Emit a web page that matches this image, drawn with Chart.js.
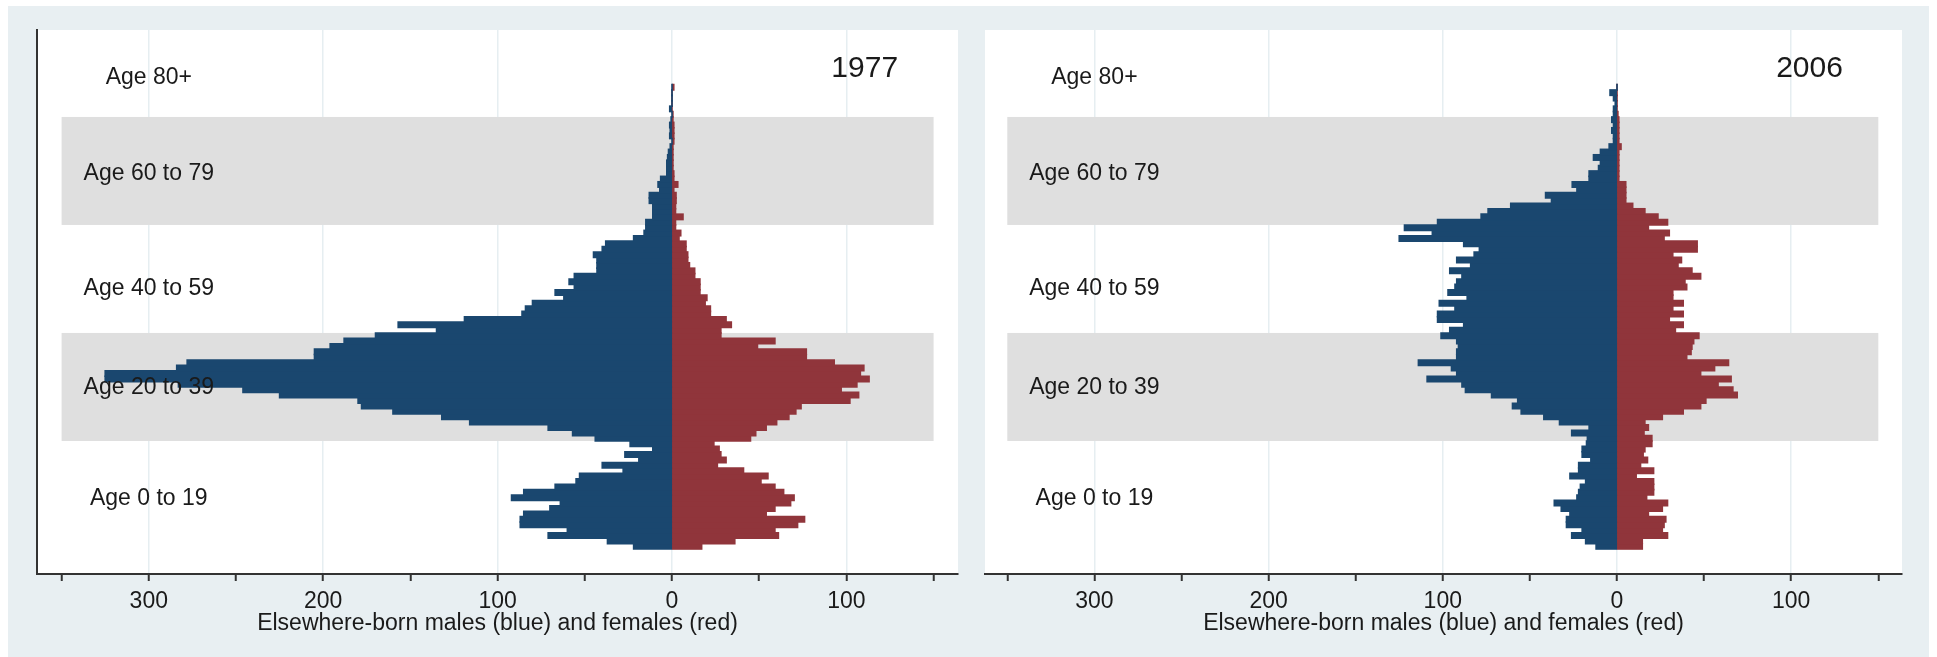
<!DOCTYPE html>
<html><head><meta charset="utf-8">
<script src="https://cdn.jsdelivr.net/npm/chart.js@4.4.1/dist/chart.umd.min.js"></script>
<style>
html,body{margin:0;padding:0;background:#fff;width:1937px;height:657px;overflow:hidden;}
#bg{position:absolute;left:8px;top:6px;width:1921px;height:651px;background:#e8eff2;}
.wrap{position:absolute;top:0;height:657px;}
canvas{display:block;}
</style></head><body>
<div id="bg"></div>
<div class="wrap" style="left:0;width:968px"><canvas id="c1" width="968" height="657"></canvas></div>
<div class="wrap" style="left:968px;width:969px"><canvas id="c2" width="969" height="657"></canvas></div>
<script>
const ages = [0,1,2,3,4,5,6,7,8,9,10,11,12,13,14,15,16,17,18,19,20,21,22,23,24,25,26,27,28,29,30,31,32,33,34,35,36,37,38,39,40,41,42,43,44,45,46,47,48,49,50,51,52,53,54,55,56,57,58,59,60,61,62,63,64,65,66,67,68,69,70,71,72,73,74,75,76,77,78,79,80,81,82,83,84,85];

const males1977 = [-22,-37,-71,-60,-87,-87,-85,-70,-64,-92,
  -85,-67,-55,-53,-28,-40,-19,-27,-11,-24,
  -44,-57,-71,-116,-132,-160,-178,-180,-225,-246,
  -283,-325,-325,-284,-278,-205,-205,-196,-188,-170,
  -135,-157,-119,-86,-84,-80,-62,-67,-56,-59,
  -56,-43,-43,-43,-45,-40,-38,-22,-16,-15,
  -15,-11,-11,-11,-13,-13,-7,-8,-6.5,-3,
  -3,-3,-2.5,-2,-1,0,-1.3,-1,-1.3,-0.5,
  0,-1.3,0,0,0,0];
const females1977 = [17,36,61,59,72,76,54,59,68,70,
  64,59,51,55,41,26,31,28,27,24,
  45,48,54,60,67,71,74,102,107,97,
  106,113,108,110,93,77,77,49,59,28,
  28,34,31,22,22,19,20,16,16,16,
  13,13,10,9,9,8,8,4,5,2,
  2,6.3,2,2,2.3,2.3,1,3.3,1,1,
  0.5,0.5,0.5,0.5,0.5,1,1,1,1,0.5,
  0.5,0,0,0,0,1];
const males2006 = [-12,-18,-26,-20,-29,-29,-27,-32,-36,-23,
  -22,-21,-18,-27,-22,-22,-15,-20,-20,-17.5,
  -17,-26,-16,-33,-42,-55,-60,-57,-72,-87,
  -89,-109,-92,-95,-114,-92,-92,-91,-92,-101,
  -96,-88,-103,-103,-93,-102,-86,-97,-93,-92,
  -89,-96,-84,-92,-82,-79,-88,-125,-106,-122,
  -103,-78,-74,-61,-37.6,-41,-23,-25.7,-16,-16,
  -10.6,-9.5,-13.5,-9.5,-4.5,-2,-2,-3,-2,-3,
  -2,-2,-1,-2,-4,0];
const females2006 = [14.5,14.5,29,26,27,28,18,26,29,17,
  21,21,21,11,21,13.5,17.5,15,16,20,
  20,15.5,18,16,26,38,48,51,69,66.5,
  58,65.5,48,56,64,40,42.5,43,44,47,
  33.5,38,30,38,32,38,32,32,40,39,
  48,43,35,37,32,46,46,27,30,18,
  29,23.5,16,9,5,5,5,5,1,1,
  1,1,1,1,2.3,1,1,1,1,1,
  0.5,0,0,0,0,0];

const axisTicks = [-350,-300,-250,-200,-150,-100,-50,0,50,100,150];
const labeledTicks = [-300,-200,-100,0,100];
const bandRanges = [[19.5,39.5],[59.5,79.5]];
const bandSpan = [-350,150];
const groupLabels = ['Age 0 to 19','Age 20 to 39','Age 40 to 59','Age 60 to 79','Age 80+'];
const groupLabelY = [8.8,29.4,47.7,69.0,86.8];
const groupLabelX = -300;
const yearLabelX = 110.5;
const yearLabelY = 88.4;
const xTitle = 'Elsewhere-born males (blue) and females (red)';

const FONT = '"Liberation Sans", Arial, Helvetica, sans-serif';
const BLUE = '#1a476f', RED = '#90353b';

const pyramidPlugin = {
  id: 'pyramid',
  beforeDraw(chart) {
    const {ctx, chartArea: a} = chart;
    ctx.save(); ctx.fillStyle = '#ffffff';
    ctx.fillRect(a.left, a.top, a.right - a.left, a.bottom - a.top);
    ctx.restore();
  },
  beforeDatasetsDraw(chart) {
    const {ctx} = chart; const xs = chart.scales.x, ys = chart.scales.y;
    ctx.save(); ctx.fillStyle = '#dfdfdf';
    bandRanges.forEach(([lo, hi]) => {
      const x0 = xs.getPixelForValue(bandSpan[0]), x1 = xs.getPixelForValue(bandSpan[1]);
      const y0 = ys.getPixelForValue(hi), y1 = ys.getPixelForValue(lo);
      ctx.fillRect(x0, y0, x1 - x0, y1 - y0);
    });
    ctx.restore();
  },
  afterDatasetsDraw(chart, args, opts) {
    const {ctx} = chart; const xs = chart.scales.x, ys = chart.scales.y;
    ctx.save();
    ctx.fillStyle = '#1a1a1a'; ctx.textAlign = 'center'; ctx.textBaseline = 'middle';
    ctx.font = '23px ' + FONT;
    groupLabels.forEach((t, i) => {
      ctx.fillText(t, xs.getPixelForValue(groupLabelX), ys.getPixelForValue(groupLabelY[i]));
    });
    ctx.font = '30px ' + FONT;
    ctx.fillText(opts.year, xs.getPixelForValue(yearLabelX), ys.getPixelForValue(yearLabelY));
    ctx.restore();
  }
};

function makeChart(id, year, males, females, xMin, xMax, padL, padR, showY) {
  return new Chart(document.getElementById(id), {
    type: 'bar',
    data: {
      datasets: [
        {label: 'Males', data: ages.map((a, i) => ({x: males[i], y: a})), backgroundColor: BLUE,
         grouped: false, barPercentage: 1, categoryPercentage: 1, borderWidth: 0, inflateAmount: 0.8},
        {label: 'Females', data: ages.map((a, i) => ({x: females[i], y: a})), backgroundColor: RED,
         grouped: false, barPercentage: 1, categoryPercentage: 1, borderWidth: 0, inflateAmount: 0.8}
      ]
    },
    options: {
      indexAxis: 'y', responsive: false, animation: false, devicePixelRatio: 1,
      layout: {padding: {left: padL, right: padR, top: 30, bottom: 0}},
      plugins: {legend: {display: false}, tooltip: {enabled: false}, pyramid: {year: year}},
      scales: {
        x: {
          type: 'linear', min: xMin, max: xMax, offset: false,
          afterBuildTicks: s => { s.ticks = axisTicks.map(v => ({value: v})); },
          afterFit: s => { s.height = 83; },
          ticks: {autoSkip: false, maxRotation: 0, padding: 7, color: '#1a1a1a',
                  font: {family: FONT, size: 23},
                  callback: v => labeledTicks.includes(v) ? String(Math.abs(v)) : ''},
          grid: {offset: false, color: c => (c.tick && labeledTicks.includes(c.tick.value)) ? '#e6eef1' : 'rgba(0,0,0,0)',
                 lineWidth: 1.5, tickColor: '#333', tickLength: 7, tickWidth: 2, drawTicks: true},
          border: {display: true, color: '#333', width: 2},
          title: {display: true, text: xTitle, color: '#1a1a1a', font: {family: FONT, size: 23},
                  padding: {top: 0, bottom: 20}}
        },
        y: {
          type: 'linear', min: -5.13, max: 95.6, offset: false, display: showY,
          ticks: {display: false}, grid: {display: false, drawTicks: false, offset: false},
          border: {display: showY, color: '#333', width: 2}
        }
      }
    },
    plugins: [pyramidPlugin]
  });
}

makeChart('c1', '1977', males1977, females1977, -364.11, 163.99, 37, 10, true);
makeChart('c2', '2006', males2006, females2006, -362.8, 163.6, 17, 35, false);
</script>
</body></html>
